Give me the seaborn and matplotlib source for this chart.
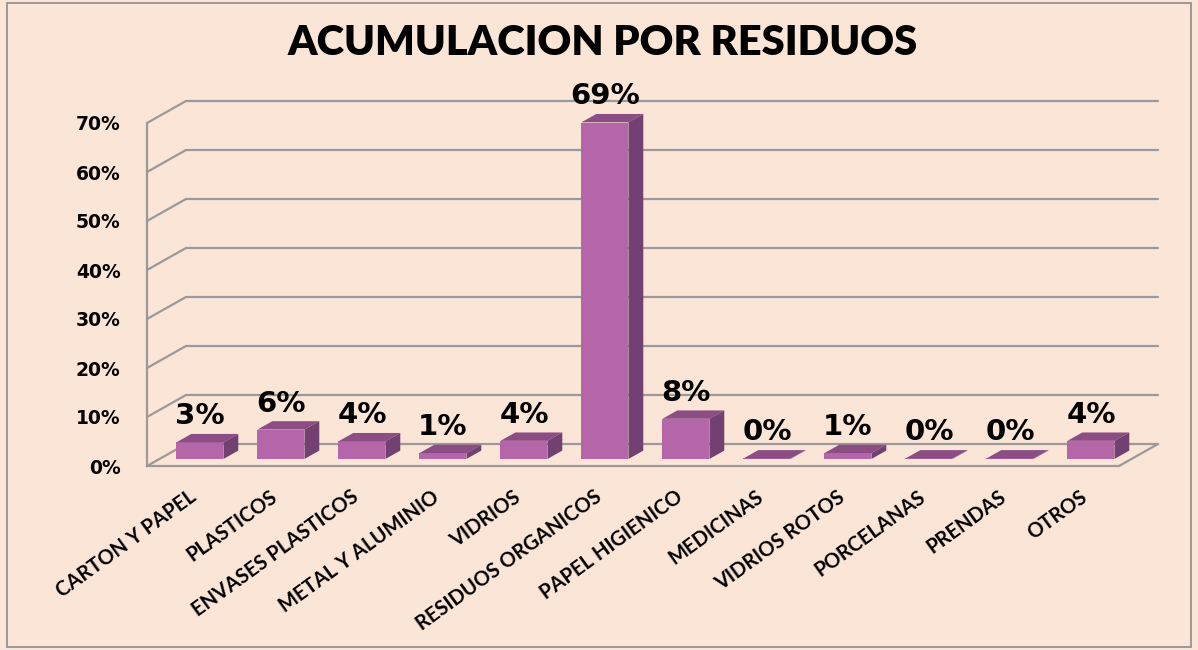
import matplotlib
matplotlib.use("Agg")
import matplotlib.pyplot as plt
from matplotlib.patches import Polygon, Rectangle
from matplotlib.transforms import ScaledTranslation
import seaborn as sns

# --- data ---
categorias = ["CARTON Y PAPEL", "PLASTICOS", "ENVASES PLASTICOS", "METAL Y ALUMINIO",
              "VIDRIOS", "RESIDUOS ORGANICOS", "PAPEL HIGIENICO", "MEDICINAS",
              "VIDRIOS ROTOS", "PORCELANAS", "PRENDAS", "OTROS"]
valores = [3.4, 6.0, 3.6, 1.2, 3.7, 68.7, 8.2, 0.1, 1.2, 0.1, 0.1, 3.7]
ticks_y = [0, 10, 20, 30, 40, 50, 60, 70]
titulo = "ACUMULACION POR RESIDUOS"

# --- colours ---
fondo = "#FBE5D7"
frente = "#B466A8"
tapa = "#8C4C84"
lado = "#734171"
gris = "#9A9A9A"

sns.set_theme(style="white")
plt.rcParams["font.family"] = ["DejaVu Sans"]
plt.rcParams["text.color"] = "black"
plt.rcParams["xtick.color"] = "black"
plt.rcParams["ytick.color"] = "black"

fig = plt.figure(figsize=(11.98, 6.5), dpi=100, facecolor=fondo)
ax = fig.add_axes([147 / 1198, 184 / 650, 972 / 1198, 343 / 650])
ax.set_facecolor("none")

sns.barplot(x=categorias, y=valores, color=frente, saturation=1, width=0.58, ax=ax, zorder=3)
ax.set_xlim(-0.5, len(categorias) - 0.5)
ax.set_ylim(0, 70)

# depth of the 3d box, in pixels -> data units
p0 = ax.transData.transform((0, 0))
p1 = ax.transData.transform((1, 1))
ddx = 39 / (p1[0] - p0[0])
ddy = 22 / (p1[1] - p0[1])

# back wall + left wall grid
x_izq, x_der = -0.5, len(categorias) - 0.5
for v in ticks_y:
    ax.plot([x_izq + ddx, x_der + ddx], [v + ddy, v + ddy], color=gris, lw=1.6, clip_on=False, zorder=1)
    ax.plot([x_izq, x_izq + ddx], [v, v + ddy], color=gris, lw=1.6, clip_on=False, zorder=1)
ax.plot([x_der, x_der + ddx], [0, ddy], color=gris, lw=1.6, clip_on=False, zorder=1)

# 3d faces for each bar
f = 0.32   # where the bar front sits in the depth
b = 0.38   # bar depth
for patch, v in zip(ax.patches, valores):
    patch.set_x(patch.get_x() + f * ddx)
    patch.set_y(f * ddy)
    patch.set_edgecolor("none")
    x0 = patch.get_x()
    x1 = x0 + patch.get_width()
    y0 = patch.get_y()
    y1 = y0 + patch.get_height()
    top = Polygon([(x0, y1), (x1, y1), (x1 + b * ddx, y1 + b * ddy), (x0 + b * ddx, y1 + b * ddy)],
                  closed=True, facecolor=tapa, edgecolor="none", zorder=3, clip_on=False)
    side = Polygon([(x1, y0), (x1, y1), (x1 + b * ddx, y1 + b * ddy), (x1 + b * ddx, y0 + b * ddy)],
                   closed=True, facecolor=lado, edgecolor="none", zorder=3, clip_on=False)
    ax.add_patch(top)
    ax.add_patch(side)
    ax.annotate(f"{round(v)}%", xy=((x0 + x1) / 2, y1), xytext=(0, 13), textcoords="offset points",
                ha="center", va="baseline", fontsize=21, fontweight="bold", color="black",
                zorder=5, annotation_clip=False)

# axes
for s in ["top", "right"]:
    ax.spines[s].set_visible(False)
for s in ["left", "bottom"]:
    ax.spines[s].set_color(gris)
    ax.spines[s].set_linewidth(1.6)
ax.set_yticks(ticks_y)
ax.set_yticklabels([f"{v}%" for v in ticks_y], fontsize=13.5, fontweight="bold")
ax.set_xticks(range(len(categorias)))
ax.set_xticklabels(categorias, rotation=36, ha="right", rotation_mode="anchor",
                   fontsize=14.5, fontweight="bold", family=["Lato", "DejaVu Sans"])
ax.tick_params(axis="y", length=0, pad=19)
ax.tick_params(axis="x", length=0, pad=15)
desplaza = ScaledTranslation(1 / 100, 0, fig.dpi_scale_trans)
for lab in ax.get_xticklabels():
    lab.set_transform(lab.get_transform() + desplaza)
ax.set_xlabel("")
ax.set_ylabel("")

fig.text(603 / 1198, 1 - 43 / 650, titulo, ha="center", va="center", fontsize=30,
         fontweight="heavy", family=["Lato", "DejaVu Sans"], color="black")

# outer frame
fig.patches.append(Rectangle((7 / 1198, 3 / 650), 1184 / 1198, 644 / 650, transform=fig.transFigure,
                             fill=False, edgecolor="#8C8C8C", lw=1.2))

fig.savefig("out.png", dpi=100, facecolor=fondo)
